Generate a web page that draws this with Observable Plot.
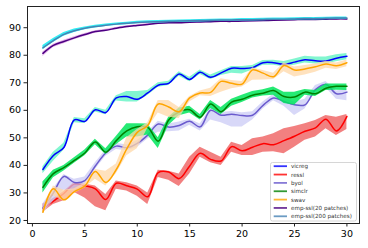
<!DOCTYPE html>
<html>
<head>
<meta charset="utf-8">
<script src="https://cdn.jsdelivr.net/npm/d3@7"></script>
<script src="https://cdn.jsdelivr.net/npm/@observablehq/plot@0.6"></script>
<style>
  html, body { margin: 0; padding: 0; background: white; }
  #chart { width: 368px; height: 248px; }
</style>
</head>
<body>
<div id="chart"></div>
<script>
const epochs = [1,2,3,4,5,6,7,8,9,10,11,12,13,14,15,16,17,18,19,20,21,22,23,24,25,26,27,28,29,30];

const seriesNames = ["vicreg","ressl","byol","simclr","swav","emp-ssl(20 patches)","emp-ssl(200 patches)"];

const vicreg   = [38.5,43.6,46.5,56.5,56.0,60.2,59.2,64.5,65.0,64.0,66.3,69.1,69.8,73.2,71.2,73.8,72.0,73.6,75.3,75.2,75.5,77.3,77.3,76.7,77.5,78.4,78.0,77.9,78.9,79.6];
const vicregLo = [37.0,41.5,45.5,55.5,55.2,59.4,58.4,63.4,63.0,63.0,65.4,68.4,69.0,72.4,70.4,73.0,71.2,72.6,73.5,73.2,74.6,76.4,76.4,75.8,76.4,77.2,76.8,76.8,77.6,78.4];
const vicregHi = [39.5,44.8,48.0,57.4,56.9,61.0,60.0,65.3,66.8,66.8,67.2,70.0,70.6,74.0,72.0,74.6,72.8,74.4,75.9,75.9,76.3,78.1,78.2,77.7,78.6,79.6,79.4,79.4,80.2,80.6];

const ressl   = [24.3,27.0,29.8,33.2,32.6,31.5,27.6,33.5,32.6,31.4,28.6,37.4,37.6,35.2,39.8,44.4,42.2,41.6,46.8,45.3,46.6,47.9,47.5,49.0,50.6,52.4,53.6,56.8,52.5,57.8];
const resslLo = [23.0,25.8,27.2,30.2,28.2,25.0,23.5,31.3,30.7,28.8,25.8,35.6,34.6,32.3,36.9,43.0,41.0,40.0,44.8,43.6,43.6,44.8,45.0,44.2,46.6,49.1,50.3,53.3,50.9,53.0];
const resslHi = [26.0,28.0,30.5,33.8,33.2,32.5,29.4,34.3,33.7,32.5,30.0,38.2,37.9,36.9,43.0,46.6,44.8,43.0,48.4,47.2,49.7,50.3,51.5,53.3,54.1,55.1,56.3,58.1,57.5,58.5];

const byol   = [24.5,30.0,36.0,33.8,34.5,39.8,44.5,47.0,46.4,48.0,51.0,55.0,53.9,54.5,56.0,54.0,60.0,58.2,58.6,58.1,58.2,61.8,64.5,63.2,62.0,62.0,67.5,69.4,66.0,66.6];
const byolLo = [22.5,27.0,31.0,30.8,33.0,38.5,43.3,45.8,45.3,46.5,49.6,52.0,52.2,52.5,54.6,52.5,56.5,55.5,53.9,53.9,56.5,60.5,63.5,61.5,58.1,60.5,66.5,68.2,64.0,63.5];
const byolHi = [26.0,31.5,36.7,35.0,35.8,41.0,45.6,48.0,47.4,49.0,52.0,56.0,55.0,55.8,56.8,55.0,60.8,59.2,59.6,59.1,59.5,63.0,65.8,64.5,63.0,64.0,69.0,70.5,67.0,67.6];

const simclr   = [32.0,37.0,39.2,41.8,44.5,48.5,44.8,49.0,52.5,54.0,53.8,48.8,56.5,59.5,60.2,57.5,62.3,59.5,63.0,64.0,65.5,66.2,67.2,65.0,64.8,66.6,66.0,68.0,68.7,68.7];
const simclrLo = [30.0,35.5,38.0,40.8,43.5,47.5,44.0,47.5,50.3,50.3,51.0,46.1,54.5,58.0,59.0,56.5,60.7,58.5,61.5,62.8,64.5,65.2,65.5,62.5,61.8,65.5,65.0,67.2,67.3,67.2];
const simclrHi = [34.0,38.2,40.0,42.8,45.6,49.5,46.0,50.5,55.1,55.1,55.0,50.0,57.5,60.8,61.5,58.5,63.6,61.0,64.0,65.5,66.8,67.5,68.5,66.6,66.6,67.6,67.2,69.6,69.6,69.6];

const swav   = [23.0,31.5,27.5,30.5,32.5,37.8,33.8,38.5,46.0,52.0,54.5,62.3,61.2,59.5,64.5,66.3,66.5,70.5,69.8,69.5,74.7,73.5,72.2,76.3,74.6,75.0,75.8,76.8,76.2,77.3];
const swavLo = [22.5,29.0,27.0,29.8,31.8,35.0,32.5,37.0,43.5,46.0,53.5,59.0,57.5,57.0,63.0,65.3,65.0,66.6,67.8,68.5,70.9,71.0,71.2,74.0,72.1,72.8,73.8,75.3,74.8,75.8];
const swavHi = [24.0,32.5,31.0,31.5,33.5,38.5,37.9,40.5,50.0,53.0,55.5,63.6,63.6,61.0,65.0,67.0,68.0,71.5,70.8,70.5,75.5,74.5,73.5,77.3,75.7,76.3,76.8,77.8,77.2,78.3];

const emp20   = [80.7,83.6,85.0,86.3,87.5,88.6,89.1,89.8,90.4,90.8,91.2,91.6,91.8,91.8,92.0,92.1,92.2,92.3,92.3,92.4,92.5,92.6,92.7,92.8,92.9,93.0,93.0,93.1,93.2,93.2];
const emp20Lo = [79.5,82.8,84.2,85.6,86.8,88.0,88.6,89.3,89.9,90.4,90.8,91.2,91.4,91.4,91.6,91.7,91.8,91.9,91.9,92.0,92.1,92.2,92.3,92.4,92.5,92.6,92.6,92.7,92.8,92.8];
const emp20Hi = [81.2,84.0,85.4,86.7,87.9,88.9,89.4,90.1,90.7,91.1,91.5,91.9,92.1,92.1,92.3,92.4,92.5,92.6,92.6,92.7,92.8,92.9,93.0,93.1,93.2,93.3,93.3,93.4,93.5,93.5];

const emp200   = [82.7,85.3,87.6,88.9,89.8,90.4,90.9,91.3,91.6,91.9,92.1,92.2,92.3,92.4,92.5,92.6,92.7,92.8,92.8,92.9,92.9,93.0,93.1,93.1,93.2,93.3,93.3,93.4,93.5,93.5];
const emp200Lo = [82.0,84.6,86.9,88.3,89.3,89.9,90.4,90.8,91.1,91.4,91.6,91.7,91.8,91.9,92.0,92.1,92.2,92.3,92.3,92.4,92.4,92.5,92.6,92.6,92.7,92.8,92.8,92.9,93.0,93.0];
const emp200Hi = [83.5,86.1,88.3,89.5,90.3,90.9,91.3,91.7,92.0,92.3,92.5,92.6,92.7,92.8,92.9,93.0,93.1,93.2,93.2,93.3,93.3,93.4,93.5,93.5,93.6,93.7,93.7,93.8,93.9,93.9];

const xTicks = [0,5,10,15,20,25,30];
const yTicks = [20,30,40,50,60,70,80,90];

const lineColors = ["blue","red","#6a5acd","green","orange","#4b0082","steelblue"];
const bandColors = ["#2ef0b0","#ee5555","#c8c8f5","#00e65c","#ffd8a8","#d890e0","#00e8f0"];
const bandOpacity = [0.6,0.75,0.7,0.85,0.75,0.7,0.8];
const legendColors = ["#3333ff","#ff3333","#887bd7","#339933","#ffb733","#6f3399","#6b9bc3"];

const values = [vicreg, ressl, byol, simclr, swav, emp20, emp200];
const los = [vicregLo, resslLo, byolLo, simclrLo, swavLo, emp20Lo, emp200Lo];
const his = [vicregHi, resslHi, byolHi, simclrHi, swavHi, emp20Hi, emp200Hi];

const tables = seriesNames.map((name, i) =>
  epochs.map((e, j) => ({series: name, epoch: e, value: values[i][j], lo: los[i][j], hi: his[i][j]}))
);

const marks = [];
tables.forEach((t, i) => {
  marks.push(Plot.areaY(t, {x: "epoch", y1: "lo", y2: "hi", fill: bandColors[i], fillOpacity: bandOpacity[i], curve: "linear"}));
  marks.push(Plot.lineY(t, {x: "epoch", y: "value", stroke: lineColors[i], strokeWidth: 1.5, curve: "catmull-rom"}));
});

const chart = Plot.plot({
  width: 368,
  height: 248,
  marginLeft: 27,
  marginRight: 9,
  marginTop: 6,
  marginBottom: 25,
  style: {fontFamily: "DejaVu Sans", fontSize: "9.5px", color: "black", background: "white"},
  x: {domain: [-0.47, 31.2]},
  y: {domain: [18.9, 97.7]},
  marks: [
    ...marks,
    Plot.frame({stroke: "#222", strokeWidth: 1}),
    Plot.axisX({ticks: xTicks, tickSize: 3.5, tickPadding: 3, label: null, stroke: "#222"}),
    Plot.axisY({ticks: yTicks, tickSize: 3.5, tickPadding: 3, label: null, stroke: "#222"})
  ]
});

document.getElementById("chart").appendChild(chart);

// legend (inside the axes, lower right)
const svg = d3.select(chart);
const lg = svg.append("g").attr("font-family", "DejaVu Sans").attr("font-size", "5.6px").attr("text-anchor", "start");
lg.append("rect").attr("x", 270.5).attr("y", 162.5).attr("width", 86).attr("height", 58.5)
  .attr("rx", 2).attr("fill", "white").attr("fill-opacity", 0.85).attr("stroke", "#cccccc").attr("stroke-width", 0.8);
seriesNames.forEach((name, i) => {
  const yy = 166.2 + i * 8.35;
  lg.append("line").attr("x1", 273.7).attr("x2", 287).attr("y1", yy).attr("y2", yy)
    .attr("stroke", legendColors[i]).attr("stroke-width", 1.8);
  lg.append("text").attr("x", 291).attr("y", yy).attr("dy", "0.35em").attr("text-anchor", "start").attr("fill", "#333").text(name);
});
</script>
</body>
</html>
